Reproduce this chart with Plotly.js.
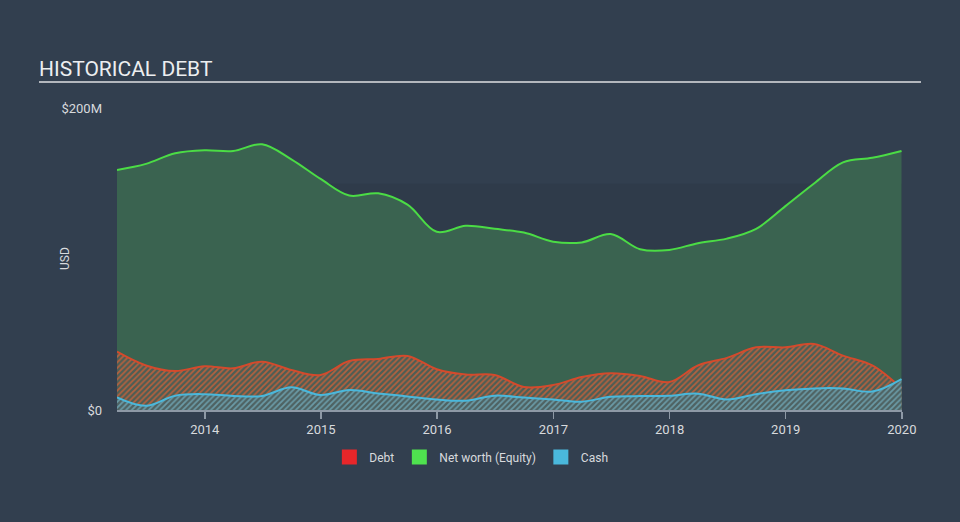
<!DOCTYPE html>
<html>
<head>
<meta charset="utf-8">
<script src="https://cdn.plot.ly/plotly-3.0.1.min.js"></script>
<style>
html,body{margin:0;padding:0;background:#323f4f;}
#chart{width:960px;height:522px;}
</style>
</head>
<body>
<div id="chart"></div>
<script>
// Quarterly dates (quarter ends)
const dates = [
  '2013-03-31','2013-06-30','2013-09-30','2013-12-31',
  '2014-03-31','2014-06-30','2014-09-30','2014-12-31',
  '2015-03-31','2015-06-30','2015-09-30','2015-12-31',
  '2016-03-31','2016-06-30','2016-09-30','2016-12-31',
  '2017-03-31','2017-06-30','2017-09-30','2017-12-31',
  '2018-03-31','2018-06-30','2018-09-30','2018-12-31',
  '2019-03-31','2019-06-30','2019-09-30','2019-12-31'
];
// values in USD millions
const netWorth = [159,163,170,172,171.5,176,166,153,142,143.5,136,118,122,120,117.5,111.5,111,116.5,106.5,106,110.5,113.5,120,135,150,164,167,171.5];
const debt = [38.6,29.5,25.8,29,27.6,32,26.5,23.2,32.5,33.8,35.8,27,23.5,23.2,15.2,16.5,21.8,24.3,22.5,18.5,29.5,34.5,41.5,41.5,43.7,36,29.5,14.3];
const cash = [8.4,2.8,9.5,10.5,9.3,9.3,15,9.9,13.2,11,9,7,6.2,9.5,8.2,7,5.5,8.8,9.2,9.5,10.8,7,10.5,13,14.3,14.3,12.2,20.5];

const seriesNames = ['Debt','Net worth (Equity)','Cash'];
const seriesColors = ['#e8262a','#4fe24f','#4ab8dc'];
const yTickVals = [0,200];
const yTickText = ['$0','$200M'];

const FONT = 'Roboto, "Open Sans", sans-serif';

const traces = [
  {
    x: dates, y: netWorth, type: 'scatter', mode: 'lines',
    line: {color: '#4bdc45', width: 2, shape: 'spline', smoothing: 1},
    fill: 'tozeroy', fillcolor: '#3a6350',
    showlegend: false, hoverinfo: 'skip'
  },
  {
    x: dates, y: debt, type: 'scatter', mode: 'lines',
    line: {color: '#d44a2c', width: 2, shape: 'spline', smoothing: 1},
    fill: 'tozeroy',
    fillpattern: {shape: '/', fgcolor: '#b4613f', bgcolor: '#4c5e55', size: 4, solidity: 0.45},
    showlegend: false, hoverinfo: 'skip'
  },
  {
    x: dates, y: cash, type: 'scatter', mode: 'lines',
    line: {color: '#4ab8dc', width: 2, shape: 'spline', smoothing: 1},
    fill: 'tozeroy',
    fillpattern: {shape: '/', fgcolor: '#6a9aa6', bgcolor: '#4e6262', size: 4, solidity: 0.45},
    showlegend: false, hoverinfo: 'skip'
  }
];
seriesNames.forEach((n, i) => {
  traces.push({
    x: [null], y: [null], type: 'scatter', mode: 'markers', name: n,
    marker: {symbol: 'square', size: 15, color: seriesColors[i]},
    showlegend: true
  });
});

const L = 117, R = 902, T = 108, B = 410;
const pw = R - L, ph = B - T;

const layout = {
  width: 960, height: 522,
  paper_bgcolor: '#323f4f', plot_bgcolor: 'rgba(0,0,0,0)',
  margin: {l: L, r: 960 - R, t: T, b: 522 - B},
  font: {family: FONT, color: '#d8dadd', size: 12},
  title: {
    text: 'HISTORICAL DEBT',
    x: 39 / 960, xref: 'container', xanchor: 'left',
    y: 1 - 69 / 522, yref: 'container', yanchor: 'middle',
    font: {family: FONT, size: 21, color: '#eceef0'}
  },
  xaxis: {
    type: 'date',
    range: ['2013-03-31', '2020-01-01 12:00'],
    dtick: 'M12', tick0: '2014-01-01', tickformat: '%Y',
    showgrid: false, zeroline: false,
    showline: true, linecolor: '#8e99a6', linewidth: 1.5,
    ticks: 'outside', ticklen: 7, tickcolor: '#8e99a6', tickwidth: 1.5,
    tickfont: {family: FONT, size: 13, color: '#d8dadd'},
    fixedrange: true
  },
  yaxis: {
    range: [0, 200],
    tickvals: yTickVals, ticktext: yTickText,
    showgrid: false, zeroline: false, showline: false,
    ticks: '', ticklabelstandoff: 14,
    tickfont: {family: FONT, size: 13, color: '#d8dadd'},
    fixedrange: true
  },
  showlegend: true,
  legend: {
    orientation: 'h', xref: 'container', x: 0.491, xanchor: 'center',
    yref: 'container', y: 1 - 457 / 522, yanchor: 'middle',
    font: {family: FONT, size: 12, color: '#d8dadd'},
    bgcolor: 'rgba(0,0,0,0)', itemwidth: 30, traceorder: 'normal'
  },
  shapes: [
    {type: 'rect', xref: 'paper', yref: 'y', x0: 0, x1: 1, y0: 0, y1: 150,
     fillcolor: 'rgba(0,0,0,0.05)', line: {width: 0}, layer: 'below'},
    {type: 'line', xref: 'paper', yref: 'paper',
     x0: (39 - L) / pw, x1: (921 - L) / pw, y0: (B - 82) / ph, y1: (B - 82) / ph,
     line: {color: '#b3b7bd', width: 2}}
  ],
  annotations: [
    {text: 'USD', xref: 'paper', yref: 'paper', x: (65 - L) / pw, y: 0.5,
     textangle: -90, showarrow: false, xanchor: 'center', yanchor: 'middle',
     font: {family: FONT, size: 12, color: '#d8dadd'}}
  ]
};

Plotly.newPlot('chart', traces, layout, {displayModeBar: false, staticPlot: true});
</script>
</body>
</html>
